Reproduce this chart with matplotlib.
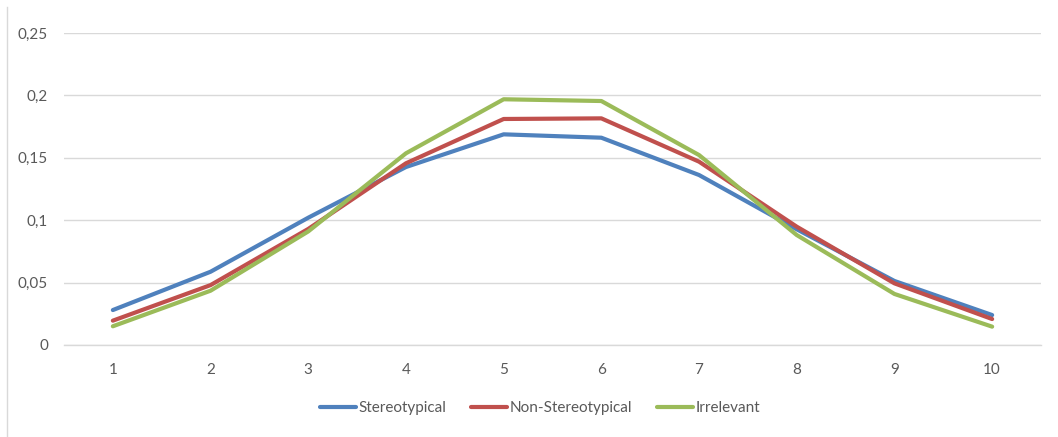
import matplotlib
matplotlib.use("Agg")
import matplotlib.pyplot as plt
from matplotlib.lines import Line2D

categories = [1, 2, 3, 4, 5, 6, 7, 8, 9, 10]
stereotypical = [0.028, 0.0587, 0.102, 0.1426, 0.1688, 0.1661, 0.1362, 0.0927, 0.0513, 0.024]
non_stereotypical = [0.0195, 0.048, 0.093, 0.1456, 0.1811, 0.1816, 0.1469, 0.0948, 0.0494, 0.0208]
irrelevant = [0.015, 0.0435, 0.091, 0.1536, 0.1969, 0.1955, 0.1522, 0.0881, 0.0409, 0.0147]
y_ticks = [0, 0.05, 0.1, 0.15, 0.2, 0.25]
y_tick_labels = ["0", "0,05", "0,1", "0,15", "0,2", "0,25"]

plt.rcParams['font.family'] = ['Lato', 'DejaVu Sans']

W, H = 1058, 437
fig = plt.figure(figsize=(W / 100, H / 100), dpi=100)
ax = fig.add_axes([64 / W, (H - 345) / H, 977 / W, 312 / H])

series = [
    ("Stereotypical", stereotypical, "#4F81BD"),
    ("Non-Stereotypical", non_stereotypical, "#C0504D"),
    ("Irrelevant", irrelevant, "#9BBB59"),
]
for name, vals, col in series:
    ax.plot(categories, vals, color=col, lw=3, label=name,
            solid_joinstyle="round", solid_capstyle="round", zorder=3)

ax.set_xlim(0.5, 10.5)
ax.set_ylim(0, 0.25)
ax.set_yticks(y_ticks)
ax.set_yticklabels(y_tick_labels)
ax.set_xticks(categories)
ax.set_xticklabels([str(c) for c in categories])

ax.grid(axis="y", color="#D9D9D9", lw=1)
ax.set_axisbelow(True)
for side in ["top", "right", "left"]:
    ax.spines[side].set_visible(False)
ax.spines["bottom"].set_color("#D9D9D9")
ax.spines["bottom"].set_linewidth(1)
ax.tick_params(axis="both", length=0, labelsize=11, colors="#595959")
ax.tick_params(axis="y", pad=11.5)
ax.tick_params(axis="x", pad=13)

leg = fig.legend(loc="center", bbox_to_anchor=(540 / W, 1 - 408 / H), ncol=3,
                 frameon=False, fontsize=11, handlelength=2.35, handletextpad=0.2,
                 columnspacing=1.6)
for t in leg.get_texts():
    t.set_color("#595959")

# chart area border on the left
fig.add_artist(Line2D([7 / W, 7 / W], [0, 1 - 7 / H], transform=fig.transFigure,
                      color="#D9D9D9", lw=1))

fig.savefig("out.png", dpi=100)
